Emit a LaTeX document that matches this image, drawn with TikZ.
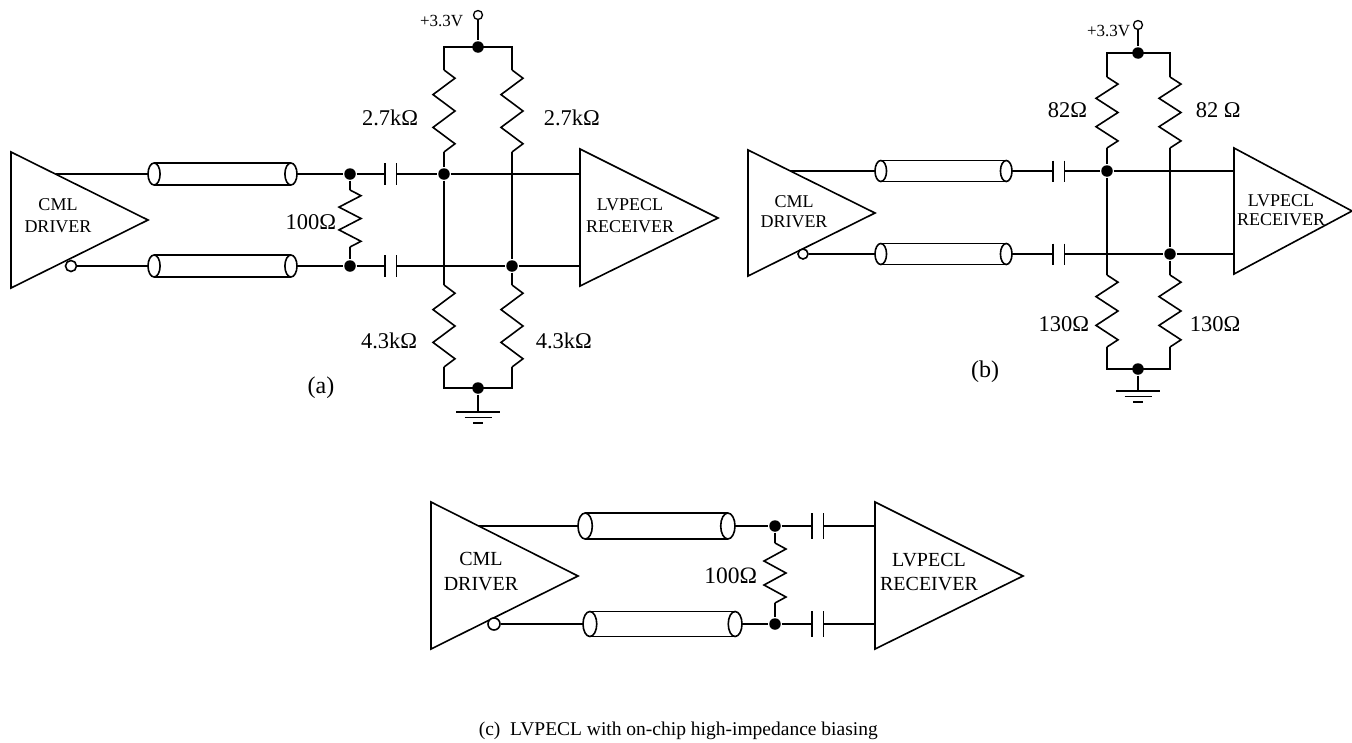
\documentclass[tikz,border=0pt]{standalone}
\usepackage{fontspec}
\setmainfont{Liberation Serif}
\usetikzlibrary{positioning}

\begin{document}
\begin{tikzpicture}[x=1pt, y=-1pt, line width=1.6pt]
    \tikzset{
      dot/.style={circle, fill, inner sep=0pt, minimum size=11.5pt},
      bubble/.style={circle, draw, fill=white, inner sep=0pt, minimum size=11pt},
      supply/.style={circle, draw, line width=1.3pt, fill=white, inner sep=0pt, minimum size=9pt},
      value/.style={font=\fontsize{22.5}{22.5}\selectfont, inner sep=0pt},
      boxtext/.style={font=\fontsize{18}{22}\selectfont, align=center, inner sep=0pt},
      railtext/.style={font=\fontsize{17}{17}\selectfont, inner sep=0pt},
      tag/.style={font=\fontsize{24}{24}\selectfont, inner sep=0pt},
      tube r/.store in=\tuber, tube r=11,
      res/.pic={
        \draw (0,0) -- (11,0.1*#1) -- (-11,0.3*#1) -- (11,0.5*#1)
          -- (-11,0.7*#1) -- (11,0.9*#1) -- (0,#1);
        \coordinate (-t) at (0,0);
        \coordinate (-b) at (0,#1);
      },
      coax/.pic={
        \draw (0.55*\tuber,-\tuber) -- (#1-0.55*\tuber,-\tuber)
              (0.55*\tuber,\tuber) -- (#1-0.55*\tuber,\tuber);
        \draw[fill=white] (0.55*\tuber,0) ellipse [x radius={0.55*\tuber*1pt}, y radius={\tuber*1pt}];
        \draw[fill=white] (#1-0.55*\tuber,0) ellipse [x radius={0.55*\tuber*1pt}, y radius={\tuber*1pt}];
        \coordinate (-l) at (0,0);
        \coordinate (-r) at (#1,0);
      },
      cap/.pic={
        \draw (0,-\tuber) -- (0,\tuber) (11.5,-\tuber) -- (11.5,\tuber);
        \coordinate (-l) at (0,0);
        \coordinate (-r) at (11.5,0);
      },
      gnd/.pic={
        \draw (-22,0) -- (22,0) (-13.5,5.5) -- (13.5,5.5) (-5,11) -- (5,11);
        \coordinate (-t) at (0,0);
      },
    }
    \useasboundingbox (0,0) rectangle (1352,742);

    % (a)
    \coordinate (dA1) at (11,152);
    \coordinate (dA2) at (148,220);
    \coordinate (dA3) at (11,288);
    \draw (dA1) -- (dA2) -- (dA3) -- cycle;
    \node[boxtext] (drvA) at (58,216) {CML\\DRIVER};
    \coordinate (oA) at (56,174);
    \node[bubble] (bA) at (71,266) {};
    \pic (tA1) at (148,174) {coax=149};
    \pic (tA2) at (148,266) {coax=149};
    \node[dot] (nA1) at (350,174) {};
    \node[dot] (nA2) at (350,266) {};
    \pic (RA0) at (350,190) {res=57};
    \node[value, anchor=east] (lA0) at (337,222) {100Ω};
    \pic (cA1) at (385,174) {cap};
    \pic (cA2) at (385,266) {cap};
    \node[dot] (nA3) at (444,174) {};
    \node[dot] (nA4) at (512,266) {};
    \coordinate (eA1) at (580,149);
    \coordinate (eA2) at (718,218);
    \coordinate (eA3) at (580,286);
    \draw (eA1) -- (eA2) -- (eA3) -- cycle;
    \node[boxtext] (rcvA) at (630,216) {LVPECL\\RECEIVER};
    \coordinate (iA1) at (580,174);
    \coordinate (iA2) at (580,266);
    \node[supply] (vA) at (478,15) {};
    \node[railtext, anchor=east] (sA) at (464,21) {+3.3V};
    \node[dot] (nA5) at (478,47) {};
    \coordinate (kA1) at (444,47);
    \coordinate (kA2) at (512,47);
    \pic (RA1) at (444,70) {res=82};
    \pic (RA2) at (512,70) {res=82};
    \pic (RA3) at (444,285) {res=82};
    \pic (RA4) at (512,285) {res=82};
    \coordinate (gA1) at (444,388);
    \coordinate (gA2) at (512,388);
    \node[dot] (nA6) at (478,388) {};
    \pic (GA) at (478,412) {gnd};
    \node[value, anchor=east] (lA1) at (419,118) {2.7kΩ};
    \node[value, anchor=west] (lA2) at (543,118) {2.7kΩ};
    \node[value, anchor=east] (lA3) at (418,341) {4.3kΩ};
    \node[value, anchor=west] (lA4) at (535,341) {4.3kΩ};
    \node[tag] (tagA) at (321,388) {(a)};

    \draw (oA) -- (tA1-l) (tA1-r) -- (nA1) -- (cA1-l) (cA1-r) -- (nA3) -- (iA1);
    \draw (bA) -- (tA2-l) (tA2-r) -- (nA2) -- (cA2-l) (cA2-r) -- (nA4) -- (iA2);
    \draw (nA1) -- (RA0-t) (RA0-b) -- (nA2);
    \draw (vA) -- (nA5);
    \draw (RA1-t) -- (kA1) -- (kA2) -- (RA2-t);
    \draw (RA1-b) -- (nA3) -- (RA3-t);
    \draw (RA2-b) -- (nA4) -- (RA4-t);
    \draw (RA3-b) -- (gA1) -- (gA2) -- (RA4-b);
    \draw (nA6) -- (GA-t);

    % (b)
    \coordinate (dB1) at (748,150);
    \coordinate (dB2) at (875,213);
    \coordinate (dB3) at (748,276);
    \draw (dB1) -- (dB2) -- (dB3) -- cycle;
    \node[boxtext, font=\fontsize{18}{20}\selectfont] (drvB) at (794,212) {CML\\DRIVER};
    \coordinate (oB) at (790,171);
    \node[bubble, minimum size=10pt] (bB) at (803,254) {};
    \pic[tube r=10.5] (tB1) at (875,171) {coax=137};
    \pic[tube r=10.5] (tB2) at (875,254) {coax=137};
    \pic[tube r=10.5] (cB1) at (1053,171) {cap};
    \pic[tube r=10.5] (cB2) at (1053,254) {cap};
    \node[dot] (nB1) at (1107,171) {};
    \node[dot] (nB2) at (1170,254) {};
    \coordinate (eB1) at (1234,148);
    \coordinate (eB2) at (1352,211);
    \coordinate (eB3) at (1234,274);
    \draw (eB1) -- (eB2) -- (eB3) -- cycle;
    \node[boxtext, font=\fontsize{18}{19}\selectfont] (rcvB) at (1281,210) {LVPECL\\RECEIVER};
    \coordinate (iB1) at (1234,171);
    \coordinate (iB2) at (1234,254);
    \node[supply] (vB) at (1138,25) {};
    \node[railtext, anchor=east] (sB) at (1131,31) {+3.3V};
    \node[dot] (nB5) at (1138,53) {};
    \coordinate (kB1) at (1107,53);
    \coordinate (kB2) at (1170,53);
    \pic (RB1) at (1107,77) {res=71};
    \pic (RB2) at (1170,77) {res=71};
    \pic (RB3) at (1107,275) {res=72};
    \pic (RB4) at (1170,275) {res=72};
    \coordinate (gB1) at (1107,369);
    \coordinate (gB2) at (1170,369);
    \node[dot] (nB6) at (1138,369) {};
    \pic (GB) at (1138,391) {gnd};
    \node[value, anchor=east] (lB1) at (1088,110) {82Ω};
    \node[value, anchor=west] (lB2) at (1195,110) {82 Ω};
    \node[value, anchor=east] (lB3) at (1090,324) {130Ω};
    \node[value, anchor=west] (lB4) at (1189,324) {130Ω};
    \node[tag] (tagB) at (985,372) {(b)};

    \draw (oB) -- (tB1-l) (tB1-r) -- (cB1-l) (cB1-r) -- (nB1) -- (iB1);
    \draw (bB) -- (tB2-l) (tB2-r) -- (cB2-l) (cB2-r) -- (nB2) -- (iB2);
    \draw (vB) -- (nB5);
    \draw (RB1-t) -- (kB1) -- (kB2) -- (RB2-t);
    \draw (RB1-b) -- (nB1) -- (RB3-t);
    \draw (RB2-b) -- (nB2) -- (RB4-t);
    \draw (RB3-b) -- (gB1) -- (gB2) -- (RB4-b);
    \draw (nB6) -- (GB-t);

    % (c)
    \coordinate (dC1) at (431,502);
    \coordinate (dC2) at (578,576);
    \coordinate (dC3) at (431,649);
    \draw (dC1) -- (dC2) -- (dC3) -- cycle;
    \node[boxtext, font=\fontsize{20}{25}\selectfont] (drvC) at (481,572) {CML\\DRIVER};
    \coordinate (oC) at (479,526);
    \node[bubble, minimum size=12pt] (bC) at (494,624) {};
    \pic[tube r=13] (tC1) at (578,526) {coax=157};
    \pic[tube r=12.5] (tC2) at (583,624) {coax=159};
    \node[dot] (nC1) at (775,526) {};
    \node[dot] (nC2) at (775,624) {};
    \pic (RC0) at (775,543) {res=60};
    \node[value, font=\fontsize{23.5}{23.5}\selectfont, anchor=east] (lC0) at (758,576) {100Ω};
    \pic[tube r=13] (cC1) at (812,526) {cap};
    \pic[tube r=13] (cC2) at (812,624) {cap};
    \coordinate (eC1) at (875,502);
    \coordinate (eC2) at (1023,576);
    \coordinate (eC3) at (875,649);
    \draw (eC1) -- (eC2) -- (eC3) -- cycle;
    \node[boxtext, font=\fontsize{20}{24}\selectfont] (rcvC) at (929,572) {LVPECL\\RECEIVER};
    \coordinate (iC1) at (875,526);
    \coordinate (iC2) at (875,624);
    \node[font=\fontsize{19.5}{19.5}\selectfont, inner sep=0pt, anchor=base west] (capC) at (478,735)
      {(c)\ \ LVPECL with on-chip high-impedance biasing};

    \draw (oC) -- (tC1-l) (tC1-r) -- (nC1) -- (cC1-l) (cC1-r) -- (iC1);
    \draw (bC) -- (tC2-l) (tC2-r) -- (nC2) -- (cC2-l) (cC2-r) -- (iC2);
    \draw (nC1) -- (RC0-t) (RC0-b) -- (nC2);
\end{tikzpicture}
\end{document}
